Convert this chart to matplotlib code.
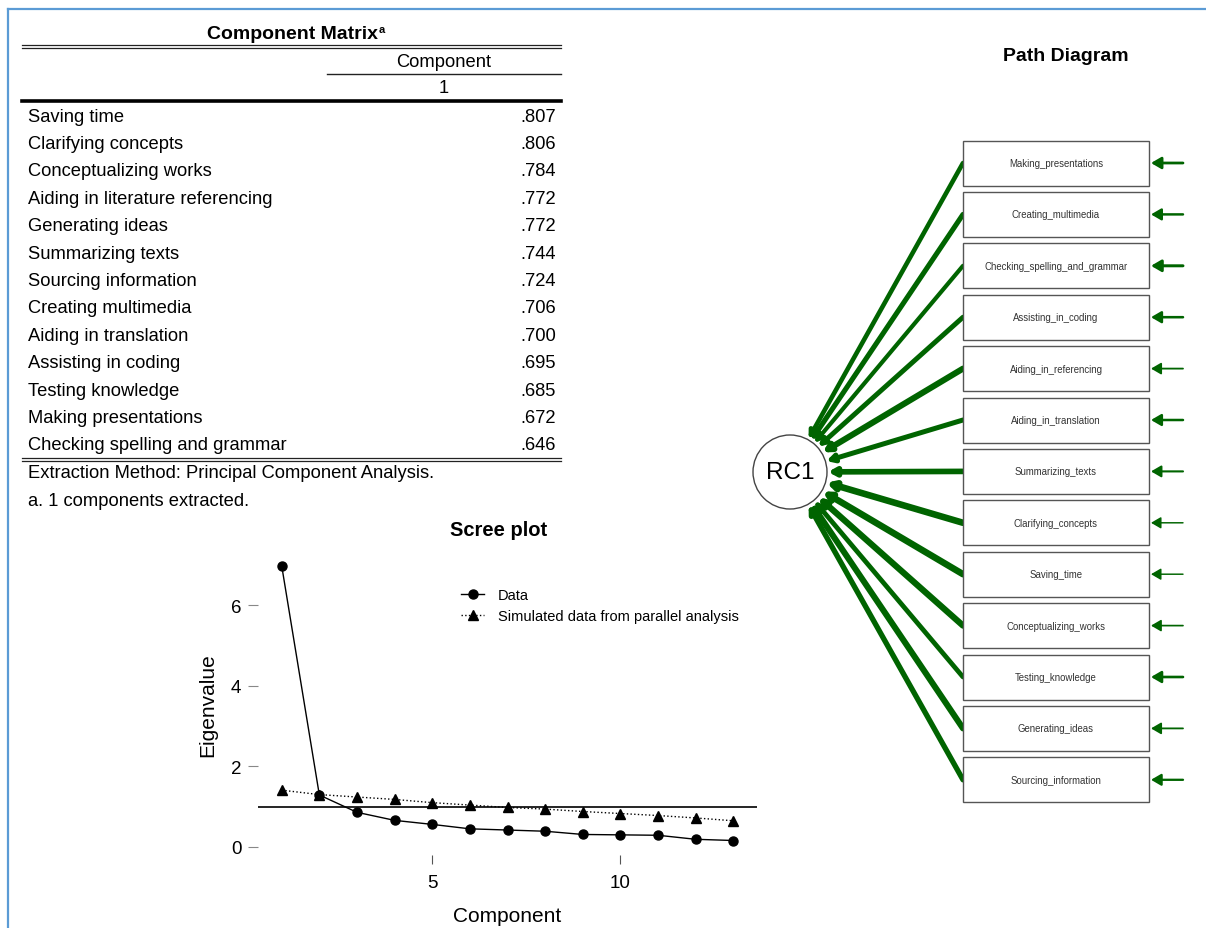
import matplotlib
matplotlib.use("Agg")
import matplotlib.pyplot as plt
import numpy as np
from matplotlib.patches import Rectangle, Circle, FancyArrowPatch

plt.rcParams['font.family'] = ['Liberation Sans', 'DejaVu Sans']

# Component matrix (SPSS table)
table_items = ["Saving time", "Clarifying concepts", "Conceptualizing works",
               "Aiding in literature referencing", "Generating ideas", "Summarizing texts",
               "Sourcing information", "Creating multimedia", "Aiding in translation",
               "Assisting in coding", "Testing knowledge", "Making presentations",
               "Checking spelling and grammar"]
table_loadings = [.807, .806, .784, .772, .772, .744, .724, .706, .700, .695, .685, .672, .646]

# Scree plot
components = np.arange(1, 14)
data_eig = [6.98, 1.29, 0.86, 0.66, 0.56, 0.45, 0.42, 0.39, 0.31, 0.30, 0.29, 0.19, 0.16]
sim_eig = [1.41, 1.30, 1.24, 1.18, 1.10, 1.04, 0.98, 0.94, 0.88, 0.83, 0.78, 0.72, 0.65]

# Path diagram
path_nodes = ["Making_presentations", "Creating_multimedia", "Checking_spelling_and_grammar",
              "Assisting_in_coding", "Aiding_in_referencing", "Aiding_in_translation",
              "Summarizing_texts", "Clarifying_concepts", "Saving_time",
              "Conceptualizing_works", "Testing_knowledge", "Generating_ideas",
              "Sourcing_information"]
path_loadings = [.672, .706, .646, .695, .772, .700, .744, .806, .807, .784, .685, .772, .724]

W, H = 1206, 929
fig = plt.figure(figsize=(W / 100, H / 100), dpi=100)

# overlay axes in pixel units for table / diagram / frame
ov = fig.add_axes([0, 0, 1, 1])
ov.set_xlim(0, W)
ov.set_ylim(H, 0)
ov.axis('off')

# blue frame
frame_c = '#5b9bd5'
ov.plot([8, 8], [10, H], color=frame_c, lw=1.6)
ov.plot([8, W], [10, 10], color=frame_c, lw=1.6)

# ---- table ----
tl, tr = 22, 561
fs = 13.2
ov.text(378, 34, "Component Matrix", ha='right', va='center', fontsize=14, fontweight='bold')
ov.text(379, 30, "a", ha='left', va='center', fontsize=8, fontweight='bold')
for yy in (46, 49):
    ov.plot([tl, tr], [yy, yy], color='#222', lw=0.9)
ov.text(444, 62, "Component", ha='center', va='center', fontsize=fs)
ov.plot([327, tr], [75, 75], color='#222', lw=1.0)
ov.text(444, 88, "1", ha='center', va='center', fontsize=fs)
ov.plot([tl, tr], [102, 102], color='black', lw=2.6)
row0, dy = 117, 27.4
for i, (name, val) in enumerate(zip(table_items, table_loadings)):
    y = row0 + i * dy
    ov.text(28, y, name, ha='left', va='center', fontsize=fs)
    ov.text(556, y, f"{val:.3f}".lstrip('0'), ha='right', va='center', fontsize=fs)
ylast = row0 + (len(table_items) - 1) * dy
for yy in (ylast + 13, ylast + 16):
    ov.plot([tl, tr], [yy, yy], color='#222', lw=0.9)
ov.text(28, 474, "Extraction Method: Principal Component Analysis.", ha='left', va='center', fontsize=fs)
ov.text(28, 501, "a. 1 components extracted.", ha='left', va='center', fontsize=fs)

# ---- scree plot ----
ov.text(499, 530, "Scree plot", ha='center', va='center', fontsize=14.5, fontweight='bold')
ov.text(208, 705, "Eigenvalue", ha='center', va='center', fontsize=15, rotation=90)
ov.text(507, 917, "Component", ha='center', va='center', fontsize=15)

ax_l, ax_r, ax_t, ax_b = 258, 757, 558, 856
ax = fig.add_axes([ax_l / W, 1 - ax_b / H, (ax_r - ax_l) / W, (ax_b - ax_t) / H])
ax.plot(components, data_eig, color='black', lw=1.0, marker='o', markersize=6.5, label='Data')
ax.plot(components, sim_eig, color='black', lw=1.0, ls=':', marker='^', markersize=7.5,
        label='Simulated data from parallel analysis')
ax.axhline(1, color='black', lw=1.2)
ax.set_xlim(0.37, 13.63)
ax.set_ylim(-0.2, 7.2)
ax.set_xticks([5, 10])
ax.set_yticks([0, 2, 4, 6])
for s in ax.spines.values():
    s.set_visible(False)
ax.tick_params(axis='y', length=7, width=0.8, color='#888', pad=5, labelsize=13.5)
ax.tick_params(axis='x', length=6.5, width=0.8, color='#555', pad=7, labelsize=13.5)
ax.patch.set_alpha(0)
ax.legend(loc='upper left', bbox_to_anchor=(448 / W, 1 - 576 / H), bbox_transform=fig.transFigure,
          frameon=False, fontsize=10.5, handlelength=1.6, handletextpad=0.9, labelspacing=0.45)

# ---- path diagram ----
ov.text(1066, 56, "Path Diagram", ha='center', va='center', fontsize=14, fontweight='bold')
green = '#006400'
bx0, bx1 = 963, 1149
bh = 45
y0, step = 164, 51.4
cx, cy, r = 790, 473, 37
ov.add_patch(Circle((cx, cy), r, facecolor='white', edgecolor='#444', lw=1.0, zorder=3))
ov.text(cx, cy, "RC1", ha='center', va='center', fontsize=17.5, zorder=4)
for i, (name, lo) in enumerate(zip(path_nodes, path_loadings)):
    yc = y0 + i * step
    ov.add_patch(Rectangle((bx0, yc - bh / 2), bx1 - bx0, bh, facecolor='white',
                           edgecolor='#555', lw=1.0, zorder=3))
    ov.text((bx0 + bx1) / 2, yc, name, ha='center', va='center', fontsize=6.9, color='#333', zorder=4)
    # loading edge
    vx, vy = cx - bx0, cy - yc
    d = np.hypot(vx, vy)
    ex, ey = cx - vx / d * (r + 1), cy - vy / d * (r + 1)
    w_px = 4.2 + (lo - 0.646) * 15
    ov.add_patch(FancyArrowPatch((bx0, yc), (ex, ey), arrowstyle='-|>,head_length=0.4,head_width=0.22',
                                 mutation_scale=10, lw=w_px * 0.72, color=green,
                                 shrinkA=0, shrinkB=0, zorder=2))
    # residual arrow
    u = 1 - lo ** 2
    rw = 6.5 * u - 0.8
    ov.add_patch(FancyArrowPatch((1183, yc), (1151, yc), arrowstyle='-|>,head_length=0.6,head_width=0.35',
                                 mutation_scale=10, lw=rw * 0.72, color=green,
                                 shrinkA=0, shrinkB=0, zorder=2))

fig.savefig("out.png", dpi=100)
